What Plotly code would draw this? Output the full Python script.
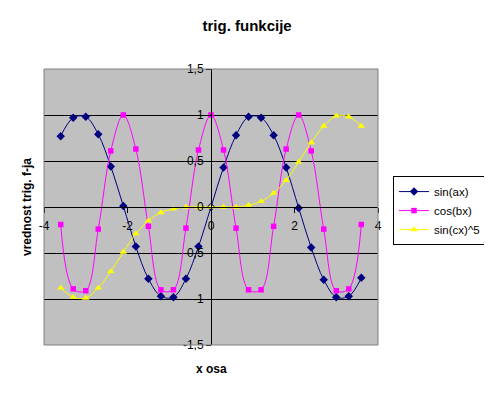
import plotly.graph_objects as go

# ---- data ----
x_vals = [-3.6, -3.3, -3.0, -2.7, -2.4, -2.1, -1.8, -1.5, -1.2, -0.9, -0.6, -0.3,
          0.0, 0.3, 0.6, 0.9, 1.2, 1.5, 1.8, 2.1, 2.4, 2.7, 3.0, 3.3, 3.6]

sin_ax = [0.77, 0.97, 0.98, 0.79, 0.44, 0.01, -0.43, -0.78, -0.97, -0.98, -0.78, -0.43,
          0.0, 0.43, 0.78, 0.98, 0.97, 0.78, 0.43, -0.01, -0.44, -0.79, -0.98, -0.97, -0.77]

cos_bx = [-0.19, -0.89, -0.91, -0.24, 0.61, 1.0, 0.63, -0.21, -0.90, -0.90, -0.23, 0.62,
          1.0, 0.62, -0.23, -0.90, -0.90, -0.21, 0.63, 1.0, 0.61, -0.24, -0.91, -0.89, -0.19]

sin_cx5 = [-0.88, -0.98, -0.99, -0.88, -0.70, -0.49, -0.29, -0.15, -0.06, -0.02, 0.0, 0.0,
           0.0, 0.0, 0.0, 0.02, 0.06, 0.15, 0.29, 0.49, 0.70, 0.88, 0.99, 0.98, 0.88]

series_names = ["sin(ax)", "cos(bx)", "sin(cx)^5"]

y_tickvals = [-1.5, -1.0, -0.5, 0.0, 0.5, 1.0, 1.5]
y_ticktext = ["-1,5", "-1", "-0,5", "0", "0,5", "1", "1,5"]
x_tickvals = [-4, -2, 0, 2, 4]
x_ticktext = ["-4", "-2", "0", "2", "4"]

FONT = "Arial, Liberation Sans, sans-serif"

fig = go.Figure()
styles = [
    dict(color="#000080", symbol="diamond", size=6.5),
    dict(color="#FF00FF", symbol="square", size=5.5),
    dict(color="#FFFF00", symbol="triangle-up", size=6.5),
]
for name, ys, st in zip(series_names, [sin_ax, cos_bx, sin_cx5], styles):
    fig.add_trace(go.Scatter(
        x=x_vals, y=ys, name=name, mode="lines+markers",
        line=dict(color=st["color"], width=1, shape="spline", smoothing=1),
        marker=dict(color=st["color"], symbol=st["symbol"], size=st["size"],
                    line=dict(width=0)),
    ))

# page has an 8px body margin, so the figure is drawn 8px in from the top-left
fig.update_layout(
    width=484, height=387,
    margin=dict(l=36, r=114, t=61, b=50, autoexpand=False),
    paper_bgcolor="white",
    plot_bgcolor="#C0C0C0",
    font=dict(family=FONT, size=12, color="black"),
    title=dict(text="<b>trig. funkcije</b>", x=0.494, xanchor="center",
               y=0.953, yanchor="middle", font=dict(size=15, family=FONT)),
    showlegend=True,
    legend=dict(x=1.045, xanchor="left", y=0.612, yanchor="top",
                bgcolor="white", bordercolor="black", borderwidth=1,
                font=dict(size=11.5, family=FONT), tracegroupgap=0,
                itemwidth=30),
    xaxis=dict(range=[-4, 4], domain=[0, 1], anchor="free", position=0.5,
               showgrid=False, zeroline=False, showline=True, linecolor="black",
               linewidth=1, ticks="outside", ticklen=5, tickcolor="black",
               tickvals=x_tickvals, ticktext=x_ticktext, ticklabelstandoff=3,
               tickfont=dict(size=12),
               automargin=False, fixedrange=True),
    yaxis=dict(range=[-1.5, 1.5], domain=[0, 1], anchor="free", position=0.5,
               showgrid=True, gridcolor="black", gridwidth=1, zeroline=False,
               showline=True, linecolor="black", linewidth=1, ticks="outside",
               ticklen=5, tickcolor="black", tickvals=y_tickvals,
               ticktext=y_ticktext, tickfont=dict(size=12),
               automargin=False, fixedrange=True),
)

# plot-area border
fig.add_shape(type="rect", xref="x domain", yref="y domain", x0=0, y0=0, x1=1, y1=1,
              line=dict(color="#808080", width=1), layer="above")

# axis titles
fig.add_annotation(text="<b>x osa</b>", xref="paper", yref="paper",
                   x=0.5, y=-24 / 276, yanchor="middle", showarrow=False,
                   font=dict(size=12, family=FONT))
fig.add_annotation(text="<b>vrednost trig. f-ja</b>", xref="paper", yref="paper",
                   x=-17 / 334, y=0.5, xanchor="center", textangle=-90, showarrow=False,
                   font=dict(size=12, family=FONT))

fig.write_html("out.html")
